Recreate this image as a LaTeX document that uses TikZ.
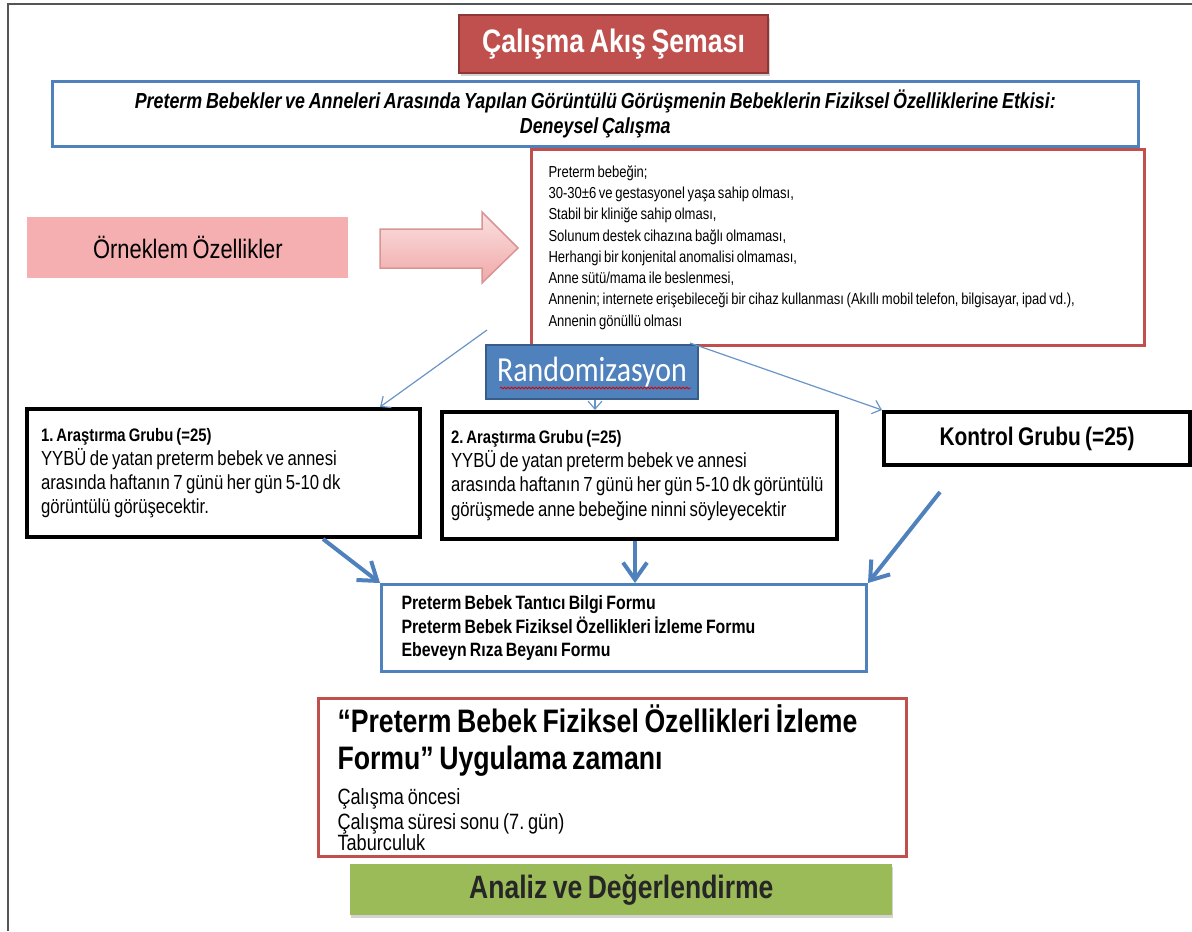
\documentclass[tikz,border=0pt]{standalone}
\usepackage{fontspec}
\setmainfont{Liberation Sans}[FakeStretch=0.82, WordSpace=0.75]
\newfontfamily\randfont{Carlito}[FakeStretch=0.85]
\usepackage{tikz}
\usetikzlibrary{positioning,arrows.meta,calc,shadows,decorations.pathmorphing}
\definecolor{titlered}{HTML}{C0504D}
\definecolor{darkred}{HTML}{8C3836}
\definecolor{officeblue}{HTML}{4F81BD}
\definecolor{deepblue}{HTML}{385D8A}
\definecolor{pinkfill}{HTML}{F5AFB0}
\definecolor{arrowpink}{HTML}{F1A8A8}
\definecolor{arrowline}{HTML}{D99594}
\definecolor{grassgreen}{HTML}{9BBB59}
\definecolor{framegray}{HTML}{555555}
\newlength{\unitpx}
\setlength{\unitpx}{0.02cm}
\frenchspacing
\tikzset{
  titlebox/.style={draw=darkred, line width=2\unitpx, fill=titlered, text=white, anchor=north west, inner sep=0pt, font=\bfseries\fontsize{18.5}{21}\selectfont, drop shadow={shadow xshift=2\unitpx, shadow yshift=-3\unitpx, opacity=.35}},
  headbox/.style={draw=officeblue, line width=2.5\unitpx, fill=white, anchor=north west, align=center, inner sep=0pt, font=\bfseries\itshape\fontsize{12.4}{14.5}\selectfont, drop shadow={shadow xshift=1\unitpx, shadow yshift=-2\unitpx, opacity=.2}},
  critbox/.style={draw=titlered, line width=3\unitpx, fill=white, anchor=north west, align=flush left, inner xsep=17\unitpx, font=\fontsize{9.05}{12.1}\selectfont},
  pinkbox/.style={fill=pinkfill, anchor=north west, inner sep=0pt, font=\fontsize{15.2}{17}\selectfont},
  randbox/.style={draw=deepblue, line width=2\unitpx, fill=officeblue, text=white, anchor=north west, inner sep=0pt, font=\randfont\fontsize{20}{24}\selectfont},
  groupbox/.style={draw=black, line width=4\unitpx, fill=white, anchor=north west, align=flush left, font=\fontsize{11.6}{13.7}\selectfont},
  formbox/.style={draw=officeblue, line width=3\unitpx, fill=white, anchor=north west, align=flush left, inner xsep=20\unitpx, font=\bfseries\fontsize{11}{13.4}\selectfont},
  timebox/.style={draw=titlered, line width=3\unitpx, fill=white, anchor=north west, align=flush left, inner xsep=19\unitpx, inner ysep=1\unitpx},
  greenbox/.style={fill=grassgreen, anchor=north west, inner sep=0pt, text=black!85, font=\bfseries\fontsize{18.4}{20}\selectfont, drop shadow={shadow xshift=1\unitpx, shadow yshift=-3\unitpx, opacity=.35}},
  thinarrow/.style={-{Straight Barb[length=1.6mm,width=2.8mm]}, draw=officeblue!85, line width=1.2\unitpx},
  thickarrow/.style={-{Straight Barb[length=3.4mm,width=4.8mm]}, draw=officeblue, line width=4\unitpx},
  squiggle/.style={draw=red!85!black, line width=0.5pt, decorate, decoration={snake, amplitude=0.8\unitpx, segment length=3.5\unitpx}}
}

\begin{document}
\begin{tikzpicture}[x=\unitpx, y=-\unitpx]
  \useasboundingbox (0,0) rectangle (1192,931);
  \draw[framegray, line width=1.5\unitpx] (8,931) -- (8,4) -- (1192,4);

  \node[titlebox, minimum width=309\unitpx, minimum height=58\unitpx] (title) at (458,14) {Çalışma Akış Şeması};
  \node[headbox, minimum width=1086\unitpx, minimum height=65\unitpx] (head) at (51,80) {Preterm Bebekler ve Anneleri Arasında Yapılan Görüntülü Görüşmenin Bebeklerin Fiziksel Özelliklerine Etkisi:\\Deneysel Çalışma};
  \node[critbox, text width=579\unitpx, minimum height=196\unitpx] (crit) at (530,148) {Preterm bebeğin;\\30-30±6 ve gestasyonel yaşa sahip olması,\\Stabil bir kliniğe sahip olması,\\Solunum destek cihazına bağlı olmaması,\\Herhangi bir konjenital anomalisi olmaması,\\Anne sütü/mama ile beslenmesi,\\Annenin; internete erişebileceği bir cihaz kullanması (Akıllı mobil telefon, bilgisayar, ipad vd.),\\Annenin gönüllü olması};
  \node[pinkbox, minimum width=321\unitpx, minimum height=61\unitpx] (sample) at (27,217) {Örneklem Özellikler};
  \filldraw[top color=arrowpink!35, bottom color=arrowpink, draw=arrowline, line width=1.5\unitpx] (380,229) -- (482,229) -- (482,212) -- (518,248) -- (482,283) -- (482,268) -- (380,268) -- cycle;
  \node[randbox, minimum width=212\unitpx, minimum height=54\unitpx] (rand) at (485,344) {Randomizasyon};
  \draw[squiggle] ($(rand.south west)+(15,-12)$) -- ($(rand.south east)+(-8,-12)$);

  \node[groupbox, inner xsep=14\unitpx, text width=365\unitpx, minimum height=128\unitpx] (grup1) at (25,407) {{\bfseries\fontsize{10.3}{13.7}\selectfont 1. Araştırma Grubu (=25)}\\YYBÜ de yatan preterm bebek ve annesi\\arasında haftanın 7 günü her gün 5-10 dk\\görüntülü görüşecektir.};
  \node[groupbox, inner xsep=9\unitpx, text width=377\unitpx, minimum height=127\unitpx] (grup2) at (440,410) {{\bfseries\fontsize{10.3}{13.7}\selectfont 2. Araştırma Grubu (=25)}\\YYBÜ de yatan preterm bebek ve annesi\\\mbox{arasında haftanın 7 günü her gün 5-10 dk görüntülü}\\görüşmede anne bebeğine ninni söyleyecektir};
  \node[groupbox, align=center, inner sep=0pt, minimum width=306\unitpx, minimum height=53\unitpx, font=\bfseries\fontsize{14.5}{17}\selectfont] (kontrol) at (882,410) {Kontrol Grubu (=25)};

  \node[formbox, text width=445\unitpx, minimum height=87\unitpx] (forms) at (380,583) {Preterm Bebek Tantıcı Bilgi Formu\\Preterm Bebek Fiziksel Özellikleri İzleme Formu\\Ebeveyn Rıza Beyanı Formu};
  \node[timebox, text width=550\unitpx, minimum height=158\unitpx] (zaman) at (317,697) {{\bfseries\fontsize{18.5}{21}\selectfont “Preterm Bebek Fiziksel Özellikleri İzleme\\Formu” Uygulama zamanı\par}\vspace{6pt}\fontsize{12.6}{14.2}\selectfont Çalışma öncesi\\Çalışma süresi sonu (7. gün)\\Taburculuk};
  \node[greenbox, minimum width=542\unitpx, minimum height=51\unitpx] (analiz) at (350,864) {Analiz ve Değerlendirme};

  \coordinate (split1) at (487,330);
  \coordinate (split3) at (690,343);
  \coordinate (kontrolout) at (940,492);
  \draw[thinarrow] (split1) -- (grup1.north -| 380,0);
  \draw[thinarrow] (rand.south -| 595,0) -- (grup2.north -| 595,0);
  \draw[thinarrow] (split3) -- (kontrol.north west);
  \draw[thickarrow] (grup1.south -| 323,0) -- (forms.north west);
  \draw[thickarrow] (grup2.south -| 635,0) -- (forms.north -| 635,0);
  \draw[thickarrow] (kontrolout) -- (forms.north east);
\end{tikzpicture}
\end{document}
